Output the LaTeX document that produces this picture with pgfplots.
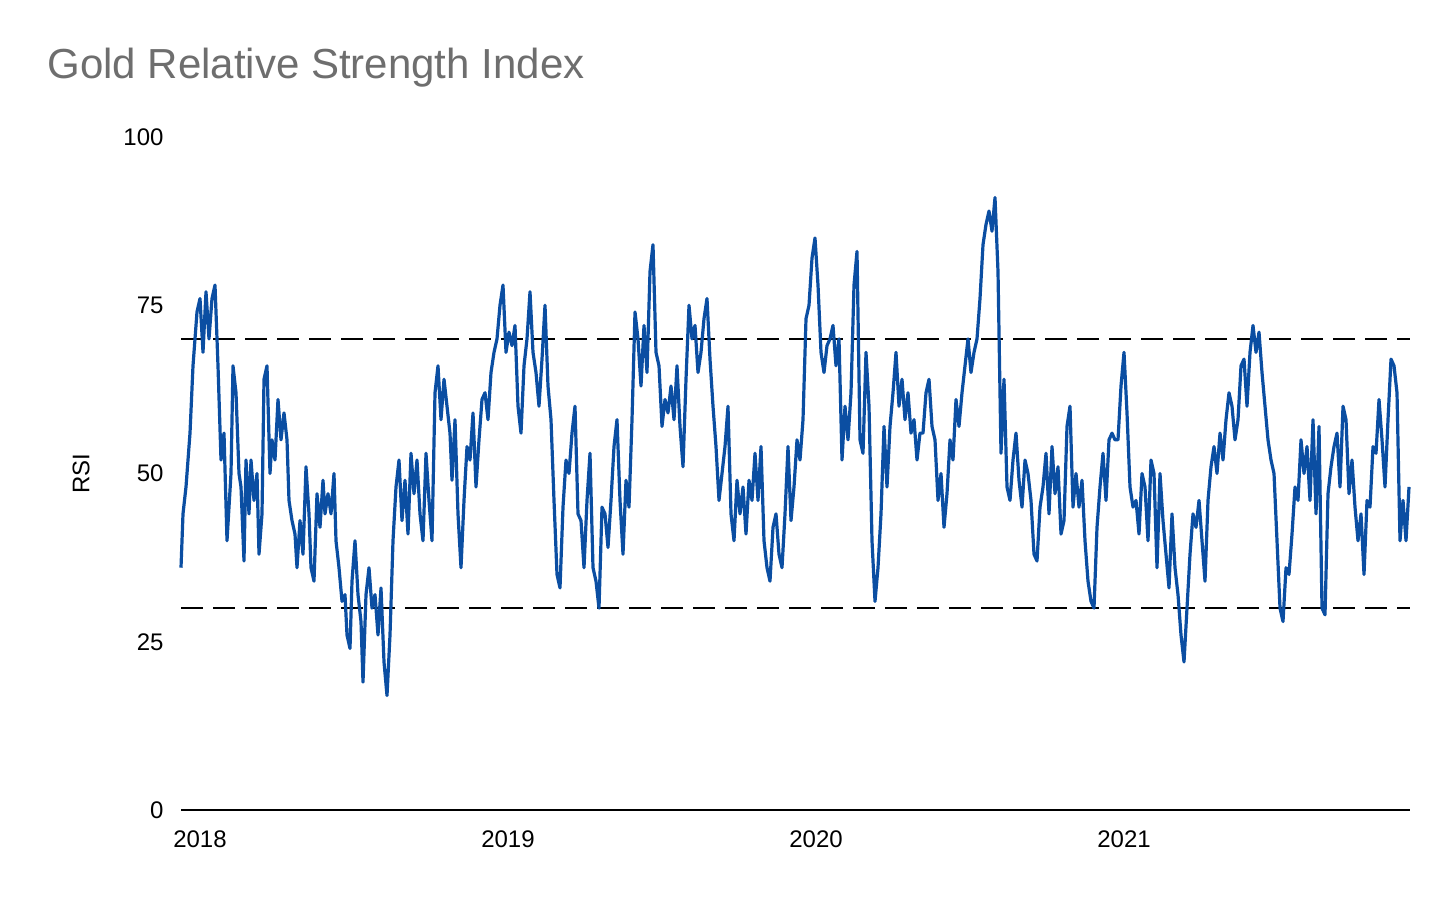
\documentclass[border=0pt]{standalone}
\usepackage{pgfplots}
\pgfplotsset{compat=1.18}
\usepackage{fontspec}
\setmainfont{Liberation Sans}
\definecolor{rsiblue}{HTML}{0B4EA2}
\definecolor{titlegray}{HTML}{6E6E6E}
\begin{document}
\begin{tikzpicture}[x=1pt,y=1pt]
\path[use as bounding box] (0,0) rectangle (1456,900);
\node[anchor=west,text=titlegray,font=\fontsize{42}{48}\selectfont] at (44,832) {Gold Relative Strength Index};
\begin{axis}[at={(181pt,90pt)},anchor=origin,scale only axis,width=1229pt,height=673pt,
  xmin=181,xmax=1410,ymin=0,ymax=100,
  axis lines=none,clip=false,
  xtick={200,508,816,1124},xticklabels={2018,2019,2020,2021},
  ytick={0,25,50,75,100},
  tick label style={font=\fontsize{24}{28}\selectfont},
  /pgf/number format/assume math mode=true,
  major tick length=0pt,
  yticklabel style={xshift=-4pt},
  ]
\draw[black,line width=1.5pt] (axis cs:181,0) -- (axis cs:1410,0);
\node[rotate=90,font=\fontsize{24}{28}\selectfont] at (axis cs:81,50) {RSI};
\foreach \ty/\tl in {0/0,25/25,50/50,75/75,100/100}{}
\node[font=\fontsize{24}{28}\selectfont] at (axis cs:200,-4.3) {2018};
\node[font=\fontsize{24}{28}\selectfont] at (axis cs:508,-4.3) {2019};
\node[font=\fontsize{24}{28}\selectfont] at (axis cs:816,-4.3) {2020};
\node[font=\fontsize{24}{28}\selectfont] at (axis cs:1124,-4.3) {2021};
\node[font=\fontsize{24}{28}\selectfont,anchor=east] at (axis cs:167,0) {0};
\node[font=\fontsize{24}{28}\selectfont,anchor=east] at (axis cs:167,25) {25};
\node[font=\fontsize{24}{28}\selectfont,anchor=east] at (axis cs:167,50) {50};
\node[font=\fontsize{24}{28}\selectfont,anchor=east] at (axis cs:167,75) {75};
\node[font=\fontsize{24}{28}\selectfont,anchor=east] at (axis cs:167,100) {100};
\addplot[black,line width=1.5pt,dash pattern=on 22pt off 10pt] coordinates {(181,70) (1410,70)};
\addplot[black,line width=1.5pt,dash pattern=on 22pt off 10pt] coordinates {(181,30) (1410,30)};
\addplot[rsiblue,line width=3.2pt,line join=round] coordinates {
(181,36) (183,44) (186,48) (190,56) (193,66) (197,74) (200,76) (203,68) (206,77) (209,70) (212,76) (215,78) (218,66) (221,52) (224,56) (227,40) (231,50) (233,66) (236,62) (239,50) (241,48) (244,37) (246,52) (249,44) (251,52) (254,46) (257,50) (259,38) (262,44) (264,64) (267,66) (270,50) (272,55) (275,52) (278,61) (281,55) (284,59) (287,55) (289,46) (292,43) (295,41) (297,36) (300,43) (303,38) (306,51) (309,44) (311,36) (314,34) (317,47) (320,42) (323,49) (325,44) (328,47) (331,44) (334,50) (336,40) (339,36) (342,31) (345,32) (347,26) (350,24) (352,34) (355,40) (358,32) (361,28) (363,19) (366,32) (369,36) (372,30) (375,32) (378,26) (381,33) (384,22) (387,17) (390,26) (393,40) (396,48) (399,52) (402,43) (405,49) (408,41) (411,53) (414,47) (417,52) (420,44) (423,40) (426,53) (429,46) (432,40) (435,62) (438,66) (441,58) (444,64) (447,60) (450,56) (452,49) (455,58) (458,44) (461,36) (464,46) (467,54) (470,52) (473,59) (476,48) (479,55) (482,61) (485,62) (488,58) (491,65) (494,68) (497,70) (500,75) (503,78) (506,68) (509,71) (512,69) (515,72) (518,60) (521,56) (524,66) (527,70) (530,77) (533,68) (536,65) (539,60) (542,67) (545,75) (548,63) (551,58) (554,46) (557,35) (560,33) (563,45) (566,52) (569,50) (572,56) (575,60) (578,44) (581,43) (584,36) (587,46) (590,53) (593,36) (596,34) (599,30) (602,45) (605,44) (608,39) (611,46) (614,54) (617,58) (620,46) (623,38) (626,49) (629,45) (632,58) (635,74) (638,70) (641,63) (644,72) (647,65) (650,80) (653,84) (656,68) (659,66) (662,57) (665,61) (668,59) (671,63) (674,58) (677,66) (680,57) (683,51) (686,64) (689,75) (692,70) (695,72) (698,65) (701,68) (704,73) (707,76) (710,67) (713,60) (716,54) (719,46) (722,50) (725,54) (728,60) (731,44) (734,40) (737,49) (740,44) (743,48) (746,41) (749,49) (752,46) (755,53) (758,46) (761,54) (764,40) (767,36) (770,34) (773,42) (776,44) (779,38) (782,36) (785,44) (788,54) (791,43) (794,48) (797,55) (800,52) (803,58) (806,73) (809,75) (812,82) (815,85) (818,78) (821,68) (824,65) (827,69) (830,70) (833,72) (836,66) (839,70) (842,52) (845,60) (848,55) (851,62) (854,78) (857,83) (860,55) (863,53) (866,68) (869,60) (872,40) (875,31) (878,36) (881,44) (884,57) (887,48) (890,57) (893,62) (896,68) (899,60) (902,64) (905,58) (908,62) (911,56) (914,58) (917,52) (920,56) (923,56) (926,62) (929,64) (932,57) (935,55) (938,46) (941,50) (944,42) (947,47) (950,55) (953,52) (956,61) (959,57) (962,62) (965,66) (968,70) (971,65) (974,68) (977,70) (980,76) (983,84) (986,87) (989,89) (992,86) (995,91) (998,80) (1001,53) (1004,64) (1007,48) (1010,46) (1013,52) (1016,56) (1019,49) (1022,45) (1025,52) (1028,50) (1031,46) (1034,38) (1037,37) (1040,45) (1043,48) (1046,53) (1049,44) (1052,54) (1055,47) (1058,51) (1061,41) (1064,43) (1067,57) (1070,60) (1073,45) (1076,50) (1079,45) (1082,49) (1085,40) (1088,34) (1091,31) (1094,30) (1097,42) (1100,48) (1103,53) (1106,46) (1109,55) (1112,56) (1115,55) (1118,55) (1121,63) (1124,68) (1127,59) (1130,48) (1133,45) (1136,46) (1139,41) (1142,50) (1145,48) (1148,40) (1151,52) (1154,50) (1157,36) (1160,50) (1163,43) (1166,38) (1169,33) (1172,44) (1175,36) (1178,32) (1181,26) (1184,22) (1187,30) (1190,38) (1193,44) (1196,42) (1199,46) (1202,40) (1205,34) (1208,46) (1211,51) (1214,54) (1217,50) (1220,56) (1223,52) (1226,58) (1229,62) (1232,60) (1235,55) (1238,58) (1241,66) (1244,67) (1247,60) (1250,68) (1253,72) (1256,68) (1259,71) (1262,65) (1265,60) (1268,55) (1271,52) (1274,50) (1277,40) (1280,30) (1283,28) (1286,36) (1289,35) (1292,41) (1295,48) (1298,46) (1301,55) (1304,50) (1307,54) (1310,46) (1313,58) (1316,44) (1319,57) (1322,30) (1325,29) (1328,47) (1331,51) (1334,54) (1337,56) (1340,48) (1343,60) (1346,58) (1349,47) (1352,52) (1355,45) (1358,40) (1361,44) (1364,35) (1367,46) (1370,45) (1373,54) (1376,53) (1379,61) (1382,55) (1385,48) (1388,58) (1391,67) (1394,66) (1397,62) (1400,40) (1403,46) (1406,40) (1409,48)
};
\end{axis}
\end{tikzpicture}
\end{document}
